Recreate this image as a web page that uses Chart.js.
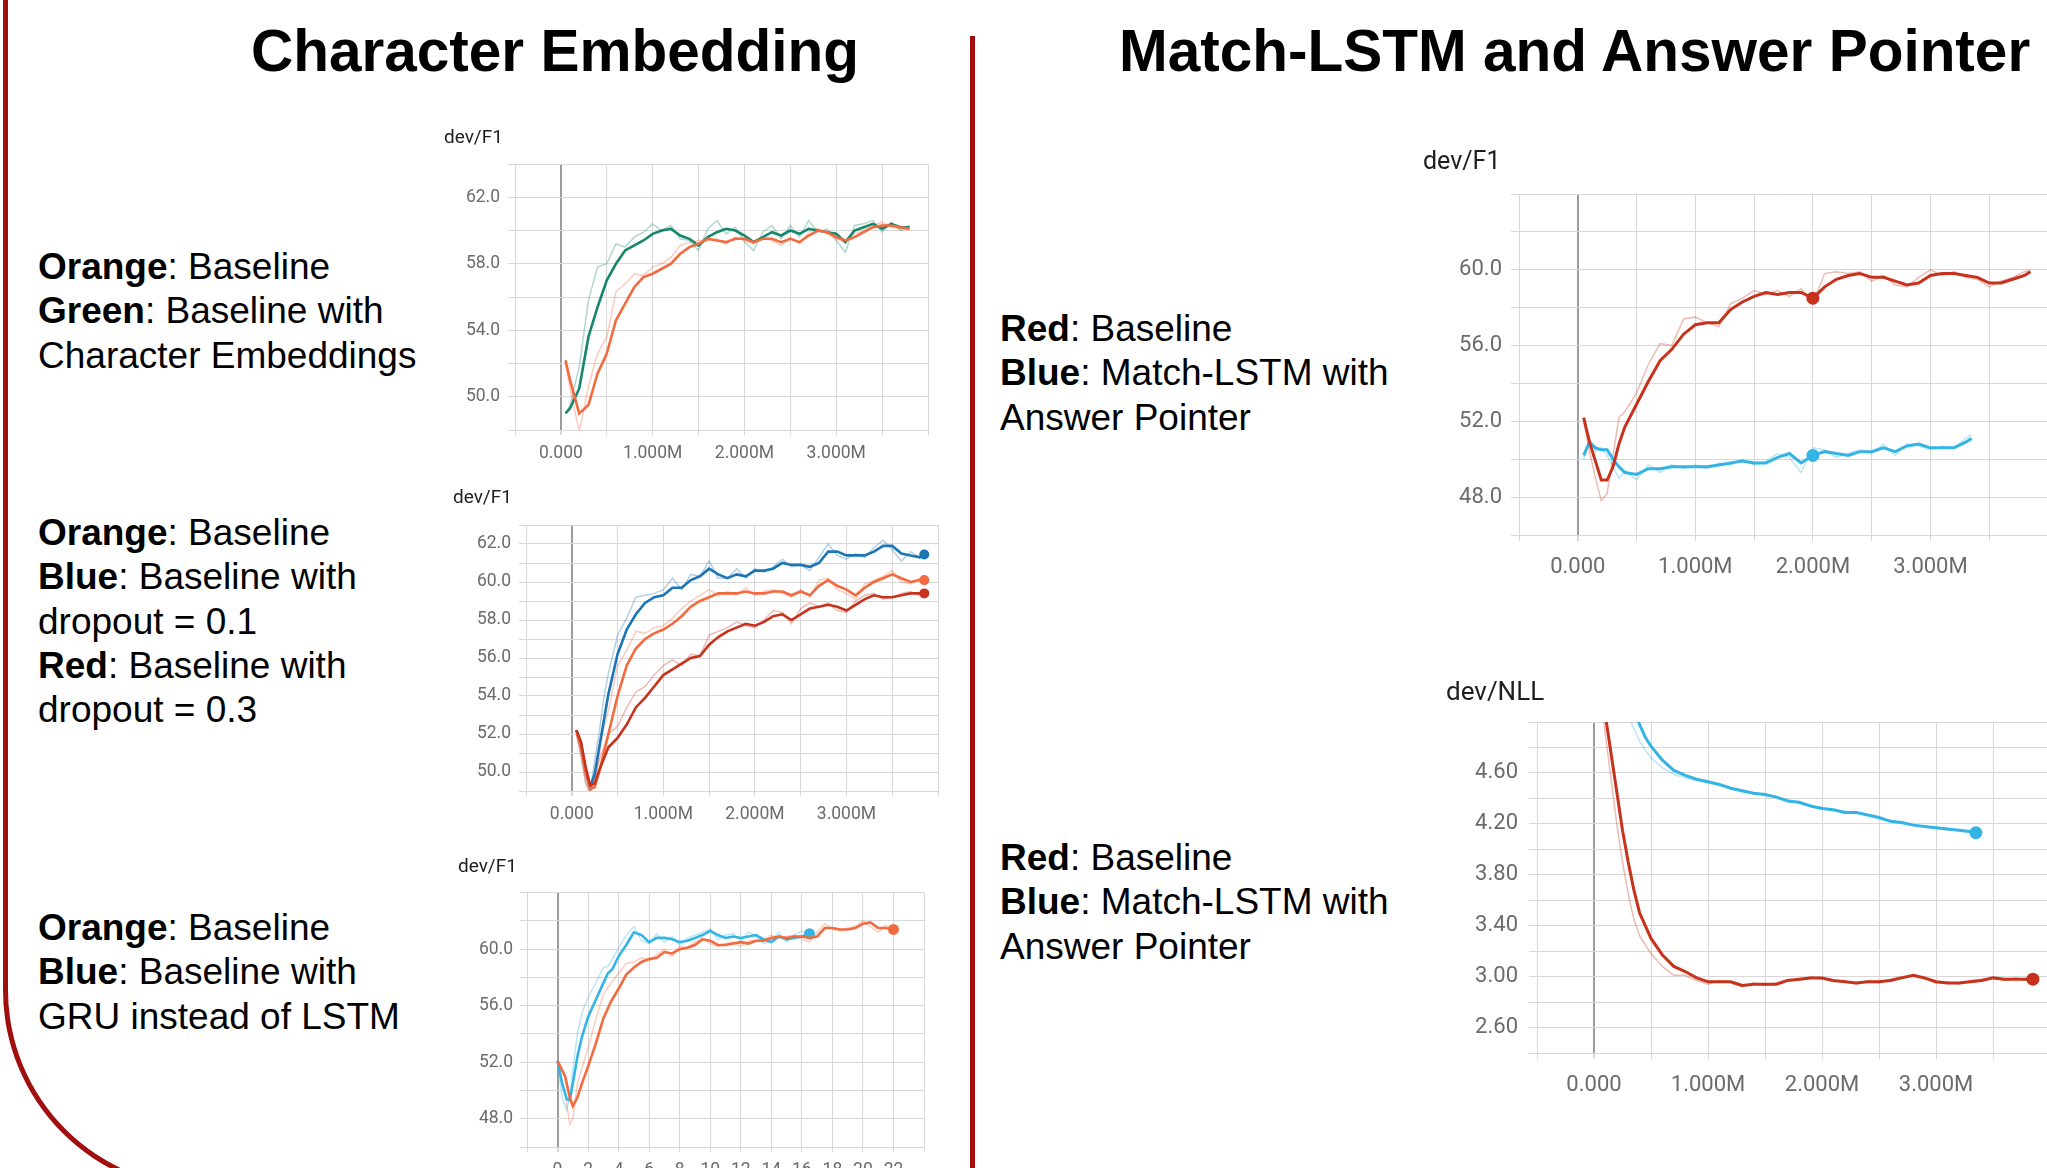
<!DOCTYPE html>
<html>
<head>
<meta charset="utf-8">
<script src="https://cdn.jsdelivr.net/npm/chart.js@4.4.1/dist/chart.umd.min.js"></script>
<style>
  html, body { margin: 0; padding: 0; }
  body { width: 2047px; height: 1168px; overflow: hidden; position: relative; background: #fff;
         font-family: 'Liberation Sans', Arial, sans-serif; color: #000; }
  .frame { position: absolute; left: 3px; top: -20px; width: 900px; height: 1212px; box-sizing: border-box;
           border-left: 5px solid #a00e0e; border-bottom: 5px solid #a00e0e; border-bottom-left-radius: 202px; }
  .divider { position: absolute; left: 970px; top: 36px; width: 5px; height: 1140px; background: #a00e0e; }
  .heading { position: absolute; top: 16px; font-size: 58.5px; font-weight: bold; line-height: 70.8px; white-space: nowrap; }
  .note { position: absolute; font-size: 37px; line-height: 44.3px; white-space: nowrap; }
  canvas { position: absolute; }
</style>
</head>
<body>
<div class="frame"></div>
<div class="divider"></div>

<div class="heading" style="left:251px">Character Embedding</div>
<div class="heading" style="left:1119px">Match-LSTM and Answer Pointer</div>

<div class="note" style="left:38px;top:245px"><b>Orange</b>: Baseline<br><b>Green</b>: Baseline with<br>Character Embeddings</div>
<div class="note" style="left:38px;top:511px"><b>Orange</b>: Baseline<br><b>Blue</b>: Baseline with<br>dropout = 0.1<br><b>Red</b>: Baseline with<br>dropout = 0.3</div>
<div class="note" style="left:38px;top:906px"><b>Orange</b>: Baseline<br><b>Blue</b>: Baseline with<br>GRU instead of LSTM</div>
<div class="note" style="left:1000px;top:307px"><b>Red</b>: Baseline<br><b>Blue</b>: Match-LSTM with<br>Answer Pointer</div>
<div class="note" style="left:1000px;top:836px"><b>Red</b>: Baseline<br><b>Blue</b>: Match-LSTM with<br>Answer Pointer</div>

<canvas id="charEmb"></canvas>
<canvas id="dropout"></canvas>
<canvas id="gru"></canvas>
<canvas id="matchF1"></canvas>
<canvas id="matchNLL"></canvas>

<script>
// ---- data (x in millions of steps, except the GRU chart) ----
const stepsShort = [0.05, 0.1, 0.2, 0.3, 0.4, 0.5, 0.6, 0.7, 0.8, 0.9, 1.0, 1.1, 1.2, 1.3, 1.4, 1.5, 1.6, 1.7, 1.8, 1.9,
  2.0, 2.1, 2.2, 2.3, 2.4, 2.5, 2.6, 2.7, 2.8, 2.9, 3.0, 3.1, 3.2, 3.3, 3.4, 3.5, 3.6, 3.7, 3.8];
const stepsLong = [0.05, 0.1, 0.15, 0.2, 0.25, 0.3, 0.35, 0.4, 0.5, 0.6, 0.7, 0.8, 0.9, 1.0, 1.1, 1.2, 1.3, 1.4, 1.5, 1.6,
  1.7, 1.8, 1.9, 2.0, 2.1, 2.2, 2.3, 2.4, 2.5, 2.6, 2.7, 2.8, 2.9, 3.0, 3.1, 3.2, 3.3, 3.4, 3.5, 3.6, 3.7, 3.8, 3.85];
const stepsMatchBlue = [0.05, 0.1, 0.15, 0.2, 0.25, 0.3, 0.35, 0.4, 0.5, 0.6, 0.7, 0.8, 0.9, 1.0, 1.1, 1.2, 1.3, 1.4, 1.5,
  1.6, 1.7, 1.8, 1.9, 2.0, 2.1, 2.2, 2.3, 2.4, 2.5, 2.6, 2.7, 2.8, 2.9, 3.0, 3.1, 3.2, 3.3, 3.35];
const stepsNllBlue = [0.3, 0.35, 0.4, 0.45, 0.5, 0.6, 0.7, 0.8, 0.9, 1.0, 1.1, 1.2, 1.3, 1.4, 1.5, 1.6, 1.7, 1.8, 1.9,
  2.0, 2.1, 2.2, 2.3, 2.4, 2.5, 2.6, 2.7, 2.8, 2.9, 3.0, 3.1, 3.2, 3.3, 3.35];
const gruBlueSteps = [0, 0.3, 0.6, 0.8, 1.0, 1.3, 1.6, 2.0, 2.5, 3.0, 3.3, 3.6, 4.0, 4.5, 5.0, 5.5, 6.0, 6.5, 7.0, 7.5,
  8.0, 8.5, 9.0, 9.5, 10.0, 10.5, 11.0, 11.5, 12.0, 12.5, 13.0, 13.5, 14.0, 14.5, 15.0, 15.5, 16.0, 16.5];
const gruOrangeSteps = [0, 0.5, 0.8, 1.0, 1.3, 1.6, 2.0, 2.5, 3.0, 3.5, 4.0, 4.5, 5.0, 5.5, 6.0, 6.5, 7.0, 7.5, 8.0, 8.5,
  9.0, 9.5, 10.0, 10.5, 11.0, 11.5, 12.0, 12.5, 13.0, 13.5, 14.0, 14.5, 15.0, 15.5, 16.0, 16.5, 17.0, 17.5, 18.0, 18.5,
  19.0, 19.5, 20.0, 20.5, 21.0, 21.5, 22.0];

// Character embedding
const charOrange = [52.2, 51.0, 49.0, 49.5, 51.4, 52.6, 54.6, 55.6, 56.6, 57.2, 57.4, 57.7, 58.0, 58.6, 59.0, 59.2, 59.5,
  59.4, 59.3, 59.5, 59.5, 59.3, 59.5, 59.5, 59.3, 59.5, 59.3, 59.7, 60.0, 59.9, 59.6, 59.4, 59.6, 59.9, 60.2, 60.3, 60.3, 60.2, 60.1];
const charOrangeRaw = [52.0, 50.5, 47.9, 50.6, 52.6, 53.6, 56.3, 56.8, 57.4, 57.3, 57.8, 58.0, 58.4, 59.1, 59.3, 59.4, 59.4,
  59.5, 59.2, 59.6, 59.4, 59.2, 59.6, 59.4, 59.1, 59.6, 59.2, 59.9, 60.1, 59.8, 59.5, 59.3, 59.8, 60.0, 60.3, 60.5, 60.2, 60.1, 60.0];
const charGreen = [49.0, 49.3, 50.5, 53.6, 55.4, 57.0, 58.0, 58.8, 59.1, 59.4, 59.8, 60.0, 60.1, 59.7, 59.5, 59.1, 59.6,
  59.9, 60.1, 60.0, 59.7, 59.3, 59.6, 59.9, 59.7, 60.0, 59.8, 60.1, 60.0, 59.9, 59.8, 59.3, 60.0, 60.2, 60.4, 60.1, 60.4, 60.2, 60.2];
const charGreenRaw = [49.0, 49.5, 51.8, 55.8, 57.8, 58.0, 59.2, 59.0, 59.6, 59.9, 60.4, 60.0, 60.3, 59.5, 59.4, 58.8, 60.1,
  60.6, 59.8, 60.2, 59.3, 58.8, 59.9, 60.3, 59.5, 60.3, 59.6, 60.6, 59.9, 60.1, 59.4, 58.7, 60.3, 60.4, 60.6, 59.9, 60.5, 60.0, 60.3];

// Dropout
const dropBlue = [52.2, 51.5, 50.1, 49.2, 49.9, 51.3, 52.7, 54.1, 56.2, 57.5, 58.3, 58.9, 59.2, 59.3, 59.7, 59.7, 60.1, 60.3,
  60.7, 60.4, 60.2, 60.4, 60.3, 60.6, 60.6, 60.7, 61.0, 60.9, 60.9, 60.8, 61.0, 61.6, 61.6, 61.4, 61.4, 61.4, 61.6, 61.9,
  61.9, 61.5, 61.4, 61.3, 61.45];
const dropBlueRaw = [52.0, 50.9, 49.5, 48.9, 50.6, 52.1, 53.9, 55.2, 57.2, 58.1, 59.2, 59.3, 59.4, 59.6, 60.2, 59.6, 60.4,
  60.3, 61.1, 60.2, 60.2, 60.7, 60.2, 60.7, 60.5, 60.8, 61.2, 60.8, 60.9, 60.6, 61.3, 62.0, 61.4, 61.2, 61.5, 61.3, 61.8,
  62.2, 61.7, 61.1, 61.6, 61.3, 61.4];
const dropOrange = [52.2, 51.3, 50.0, 49.1, 49.2, 50.0, 51.0, 52.0, 54.0, 55.6, 56.5, 57.0, 57.3, 57.5, 57.8, 58.2, 58.7,
  59.0, 59.2, 59.4, 59.4, 59.4, 59.5, 59.4, 59.4, 59.5, 59.5, 59.3, 59.5, 59.3, 59.8, 60.1, 59.8, 59.6, 59.3, 59.7, 60.0,
  60.2, 60.4, 60.2, 60.0, 60.1, 60.1];
const dropOrangeRaw = [52.0, 50.8, 49.4, 48.8, 49.6, 50.9, 52.3, 53.2, 55.6, 56.4, 57.4, 57.3, 57.6, 57.7, 58.1, 58.6, 59.0,
  59.3, 59.6, 59.3, 59.5, 59.3, 59.7, 59.3, 59.5, 59.6, 59.4, 59.2, 59.6, 59.2, 60.1, 60.2, 59.6, 59.4, 59.1, 59.9, 60.1,
  60.3, 60.6, 60.0, 59.9, 60.2, 60.1];
const dropRed = [52.2, 51.6, 50.3, 49.3, 49.4, 50.1, 50.7, 51.3, 51.8, 52.5, 53.4, 53.9, 54.5, 55.1, 55.4, 55.7, 56.0, 56.1,
  56.7, 57.1, 57.4, 57.6, 57.8, 57.7, 57.9, 58.2, 58.3, 58.0, 58.3, 58.6, 58.7, 58.8, 58.7, 58.5, 58.8, 59.1, 59.3, 59.2,
  59.2, 59.3, 59.4, 59.4, 59.4];
const dropRedRaw = [52.1, 51.3, 49.9, 49.0, 49.6, 50.6, 51.3, 52.0, 52.4, 53.4, 54.2, 54.5, 55.1, 55.6, 55.9, 55.6, 56.2,
  56.1, 57.2, 57.4, 57.6, 57.9, 57.7, 57.6, 58.0, 58.5, 58.4, 57.8, 58.6, 58.9, 58.7, 58.9, 58.5, 58.4, 59.0, 59.3, 59.4,
  59.1, 59.2, 59.4, 59.5, 59.3, 59.4];

// GRU (x axis in its own units, 0..22)
const gruBlue = [52.1, 50.5, 49.4, 49.3, 50.5, 52.4, 53.8, 55.2, 56.4, 57.6, 58.3, 58.6, 59.5, 60.3, 61.2, 61.0, 60.5, 60.8,
  60.8, 60.7, 60.5, 60.6, 60.8, 61.0, 61.3, 61.0, 60.8, 60.9, 60.8, 60.9, 61.0, 60.7, 60.5, 60.9, 60.7, 60.8, 60.9, 61.1];
const gruBlueRaw = [52.0, 49.5, 48.6, 49.6, 51.5, 54.0, 55.5, 56.6, 57.6, 58.7, 58.8, 59.3, 60.1, 61.0, 61.6, 60.6, 60.4,
  61.1, 60.5, 60.9, 60.3, 60.8, 61.0, 61.2, 61.4, 60.7, 61.0, 61.1, 60.6, 61.2, 60.9, 60.4, 60.6, 61.2, 60.5, 61.0, 61.3, 61.0];
const gruOrange = [52.1, 51.0, 49.5, 48.9, 49.5, 50.5, 51.7, 53.3, 55.1, 56.3, 57.2, 58.2, 58.7, 59.1, 59.3, 59.4, 59.8,
  59.7, 60.0, 60.1, 60.3, 60.7, 60.6, 60.3, 60.3, 60.4, 60.5, 60.4, 60.6, 60.6, 60.8, 60.9, 60.8, 60.9, 60.9, 60.8, 60.9,
  61.5, 61.5, 61.4, 61.4, 61.5, 61.8, 61.9, 61.5, 61.5, 61.4];
const gruOrangeRaw = [52.0, 49.8, 47.6, 48.0, 50.5, 51.6, 53.0, 55.0, 56.8, 57.6, 58.3, 59.0, 59.1, 59.4, 59.2, 59.6, 60.0,
  59.5, 60.2, 60.1, 60.5, 60.8, 60.4, 60.2, 60.4, 60.5, 60.2, 60.6, 60.6, 60.7, 61.0, 60.8, 60.9, 61.0, 60.7, 60.5, 61.2,
  61.8, 61.4, 61.3, 61.5, 61.6, 62.0, 61.6, 61.2, 61.7, 61.3];

// Match-LSTM dev/F1
const matchRed = [52.2, 50.9, 49.9, 48.9, 48.9, 49.6, 50.8, 51.7, 52.9, 54.1, 55.2, 55.8, 56.6, 57.1, 57.2, 57.2, 57.9, 58.3,
  58.6, 58.8, 58.7, 58.8, 58.8, 58.5, 59.1, 59.5, 59.7, 59.8, 59.6, 59.6, 59.4, 59.2, 59.3, 59.7, 59.8, 59.8, 59.7, 59.6,
  59.3, 59.3, 59.5, 59.7, 59.9];
const matchRedRaw = [52.0, 50.4, 49.0, 47.8, 48.2, 50.2, 52.2, 52.5, 53.5, 55.0, 56.1, 56.0, 57.4, 57.5, 57.2, 57.0, 58.2,
  58.5, 58.9, 58.7, 58.9, 58.6, 59.0, 58.2, 59.8, 59.9, 59.8, 59.9, 59.4, 59.7, 59.2, 59.1, 59.6, 60.0, 59.7, 59.9, 59.6,
  59.5, 59.1, 59.4, 59.6, 59.9, 60.0];
const matchBlue = [50.2, 50.9, 50.6, 50.5, 50.5, 50.0, 49.6, 49.3, 49.2, 49.5, 49.5, 49.6, 49.6, 49.6, 49.6, 49.7, 49.8,
  49.9, 49.8, 49.8, 50.1, 50.3, 49.8, 50.2, 50.4, 50.3, 50.2, 50.4, 50.4, 50.6, 50.4, 50.7, 50.8, 50.6, 50.6, 50.6, 50.9, 51.1];
const matchBlueRaw = [50.0, 51.1, 50.4, 50.6, 50.2, 49.6, 49.0, 49.4, 48.9, 49.7, 49.3, 49.7, 49.5, 49.7, 49.5, 49.8, 49.7,
  50.0, 49.7, 49.9, 50.3, 50.1, 49.3, 50.6, 50.5, 50.1, 50.3, 50.5, 50.3, 50.8, 50.2, 50.8, 50.7, 50.5, 50.7, 50.6, 51.1, 51.3];
const matchMarkerStep = 2.0;

// Match-LSTM dev/NLL
const nllRed = [5.4, 5.05, 4.75, 4.45, 4.15, 3.9, 3.68, 3.5, 3.3, 3.17, 3.08, 3.04, 2.99, 2.96, 2.96, 2.96, 2.93, 2.94,
  2.94, 2.94, 2.97, 2.98, 2.99, 2.99, 2.97, 2.96, 2.95, 2.96, 2.96, 2.97, 2.99, 3.01, 2.99, 2.96, 2.95, 2.95, 2.96, 2.97,
  2.99, 2.98, 2.98, 2.98, 2.98];
const nllRedRaw = [5.3, 4.9, 4.55, 4.2, 3.9, 3.65, 3.45, 3.32, 3.18, 3.08, 3.01, 3.01, 2.97, 2.94, 2.97, 2.95, 2.92, 2.95,
  2.93, 2.95, 2.98, 2.97, 3.0, 2.98, 2.96, 2.97, 2.94, 2.97, 2.95, 2.98, 3.0, 3.0, 2.98, 2.95, 2.96, 2.94, 2.97, 2.98,
  2.99, 2.97, 2.99, 2.97, 2.98];
const nllBlue = [5.2, 5.08, 4.98, 4.88, 4.81, 4.70, 4.62, 4.58, 4.55, 4.53, 4.51, 4.48, 4.46, 4.44, 4.43, 4.41, 4.38, 4.37,
  4.34, 4.32, 4.31, 4.29, 4.29, 4.27, 4.25, 4.22, 4.21, 4.19, 4.18, 4.17, 4.16, 4.15, 4.14, 4.13];
const nllBlueRaw = [5.05, 4.95, 4.85, 4.78, 4.72, 4.64, 4.59, 4.56, 4.54, 4.52, 4.50, 4.48, 4.45, 4.44, 4.42, 4.41, 4.39,
  4.36, 4.34, 4.33, 4.30, 4.30, 4.28, 4.27, 4.24, 4.23, 4.20, 4.19, 4.18, 4.17, 4.15, 4.15, 4.13, 4.12];

// tick labels
const millionTicks = [0, 1, 2, 3];
const gruTicks = [0, 2, 4, 6, 8, 10, 12, 14, 16, 18, 20, 22];
const charYTicks = [50, 54, 58, 62];
const dropYTicks = [50, 52, 54, 56, 58, 60, 62];
const f1YTicks = [48, 52, 56, 60];
const nllYTicks = [2.6, 3.0, 3.4, 3.8, 4.2, 4.6];

// ---- drawing ----
const ORANGE = '#f26a3e', GREEN = '#14876d', BLUE = '#1c75b5', RED = '#c7321d', CYAN = '#34b4e4';
const GRID = '#d8d8d8';
const TICK_TEXT = '#6b6b6b';

Chart.defaults.font.family = "Roboto, 'Liberation Sans', sans-serif";

const points = (steps, values) => steps.map((x, i) => ({ x: x, y: values[i] }));
const near = (list, v) => list.some(t => Math.abs(t - v) < 1e-6);
const millionLabel = v => near(millionTicks, v) ? (v === 0 ? '0.000' : v.toFixed(3) + 'M') : '';

function drawChart(id, box, xs, ys, lines) {
  const canvas = document.getElementById(id);
  canvas.width = box.w;
  canvas.height = box.h;
  canvas.style.left = box.left + 'px';
  canvas.style.top = box.top + 'px';

  const datasets = lines.map(l => ({
    data: points(l.steps, l.values),
    borderColor: l.raw ? l.color + '55' : l.color,
    borderWidth: l.raw ? 1.5 : box.lw,
    pointRadius: ctx => (l.dot !== undefined && ctx.dataIndex === l.dot) ? box.dot : 0,
    pointBackgroundColor: l.color,
    pointBorderWidth: 0,
    pointHoverRadius: 0,
    tension: 0,
    fill: false,
    order: l.raw ? 2 : 1
  }));

  new Chart(canvas, {
    type: 'line',
    data: { datasets: datasets },
    options: {
      responsive: false,
      animation: false,
      devicePixelRatio: 1,
      layout: { autoPadding: false, padding: { left: 0, right: 3, top: 0, bottom: 0 } },
      plugins: {
        legend: { display: false },
        tooltip: { enabled: false },
        title: {
          display: true, text: box.title, align: 'start', color: '#1e1e1e',
          font: { size: box.titleSize, weight: 'normal' },
          padding: { top: box.titleTop, bottom: box.titleGap }
        }
      },
      scales: {
        x: {
          type: 'linear', min: xs.min, max: xs.max,
          afterFit: s => { s.height = box.xh; },
          border: { display: false },
          grid: {
            color: ctx => (ctx.tick && ctx.tick.value === 0) ? '#9c9c9c' : GRID,
            lineWidth: ctx => (ctx.tick && ctx.tick.value === 0) ? 2 : 1,
            tickColor: GRID, tickLength: box.xTick
          },
          ticks: { stepSize: xs.step, autoSkip: false, maxRotation: 0, padding: box.xPad, color: TICK_TEXT,
                   font: { size: box.fs }, callback: xs.label }
        },
        y: {
          min: ys.min, max: ys.max,
          afterFit: s => { s.width = box.yw; },
          border: { display: false },
          grid: { color: GRID, tickColor: GRID, tickLength: box.yTick },
          ticks: { stepSize: ys.step, autoSkip: false, padding: box.yPad, color: TICK_TEXT,
                   font: { size: box.fs }, callback: ys.label }
        }
      }
    }
  });
}

drawChart('charEmb',
  { left: 444, top: 123, w: 492, h: 352, yw: 71, xh: 45, title: 'dev/F1', titleSize: 19, titleTop: 4, titleGap: 14.2,
    fs: 17.5, xTick: 5, xPad: 8, yTick: 7, yPad: 8, lw: 2.6, dot: 0 },
  { min: -0.5, max: 4.0, step: 0.5, label: millionLabel },
  { min: 48, max: 64, step: 2, label: v => near(charYTicks, v) ? v.toFixed(1) : '' },
  [
    { steps: stepsShort, values: charOrangeRaw, color: ORANGE, raw: true },
    { steps: stepsShort, values: charGreenRaw, color: GREEN, raw: true },
    { steps: stepsShort, values: charOrange, color: ORANGE },
    { steps: stepsShort, values: charGreen, color: GREEN }
  ]);

drawChart('dropout',
  { left: 453, top: 483, w: 493, h: 353, yw: 73, xh: 45, title: 'dev/F1', titleSize: 19, titleTop: 4, titleGap: 15.2,
    fs: 17.5, xTick: 5, xPad: 8, yTick: 7, yPad: 8, lw: 2.6, dot: 5 },
  { min: -0.5, max: 4.0, step: 0.5, label: millionLabel },
  { min: 49, max: 63, step: 1, label: v => near(dropYTicks, v) ? v.toFixed(1) : '' },
  [
    { steps: stepsLong, values: dropRedRaw, color: RED, raw: true },
    { steps: stepsLong, values: dropOrangeRaw, color: ORANGE, raw: true },
    { steps: stepsLong, values: dropBlueRaw, color: BLUE, raw: true },
    { steps: stepsLong, values: dropRed, color: RED, dot: stepsLong.length - 1 },
    { steps: stepsLong, values: dropOrange, color: ORANGE, dot: stepsLong.length - 1 },
    { steps: stepsLong, values: dropBlue, color: BLUE, dot: stepsLong.length - 1 }
  ]);

drawChart('gru',
  { left: 458, top: 852, w: 474, h: 340, yw: 69, xh: 45, title: 'dev/F1', titleSize: 19, titleTop: 4, titleGap: 13.9,
    fs: 17.5, xTick: 5, xPad: 8, yTick: 7, yPad: 7, lw: 2.6, dot: 5.5 },
  { min: -2, max: 24, step: 2, label: v => near(gruTicks, v) ? String(v) : '' },
  { min: 46, max: 64, step: 2, label: v => (near(f1YTicks, v) && v < 64) ? v.toFixed(1) : '' },
  [
    { steps: gruOrangeSteps, values: gruOrangeRaw, color: ORANGE, raw: true },
    { steps: gruBlueSteps, values: gruBlueRaw, color: CYAN, raw: true },
    { steps: gruOrangeSteps, values: gruOrange, color: ORANGE, dot: gruOrangeSteps.length - 1 },
    { steps: gruBlueSteps, values: gruBlue, color: CYAN, dot: gruBlueSteps.length - 1 }
  ]);

drawChart('matchF1',
  { left: 1423, top: 140, w: 638, h: 450, yw: 96, xh: 55, title: 'dev/F1', titleSize: 25, titleTop: 8, titleGap: 16,
    fs: 22, xTick: 6, xPad: 13, yTick: 8, yPad: 9, lw: 3, dot: 6.5 },
  { min: -0.5, max: 4.0, step: 0.5, label: millionLabel },
  { min: 46, max: 64, step: 2, label: v => (near(f1YTicks, v) && v < 64) ? v.toFixed(1) : '' },
  [
    { steps: stepsLong, values: matchRedRaw, color: RED, raw: true },
    { steps: stepsMatchBlue, values: matchBlueRaw, color: CYAN, raw: true },
    { steps: stepsLong, values: matchRed, color: RED, dot: stepsLong.indexOf(matchMarkerStep) },
    { steps: stepsMatchBlue, values: matchBlue, color: CYAN, dot: stepsMatchBlue.indexOf(matchMarkerStep) }
  ]);

drawChart('matchNLL',
  { left: 1446, top: 671, w: 617, h: 437, yw: 91, xh: 55, title: 'dev/NLL', titleSize: 26, titleTop: 7, titleGap: 12.8,
    fs: 22, xTick: 6, xPad: 13, yTick: 8, yPad: 11, lw: 3, dot: 6.5 },
  { min: -0.5, max: 4.0, step: 0.5, label: millionLabel },
  { min: 2.4, max: 5.0, step: 0.2, label: v => near(nllYTicks, v) ? v.toFixed(2) : '' },
  [
    { steps: stepsLong, values: nllRedRaw, color: RED, raw: true },
    { steps: stepsNllBlue, values: nllBlueRaw, color: CYAN, raw: true },
    { steps: stepsLong, values: nllRed, color: RED, dot: stepsLong.length - 1 },
    { steps: stepsNllBlue, values: nllBlue, color: CYAN, dot: stepsNllBlue.length - 1 }
  ]);
</script>
</body>
</html>
